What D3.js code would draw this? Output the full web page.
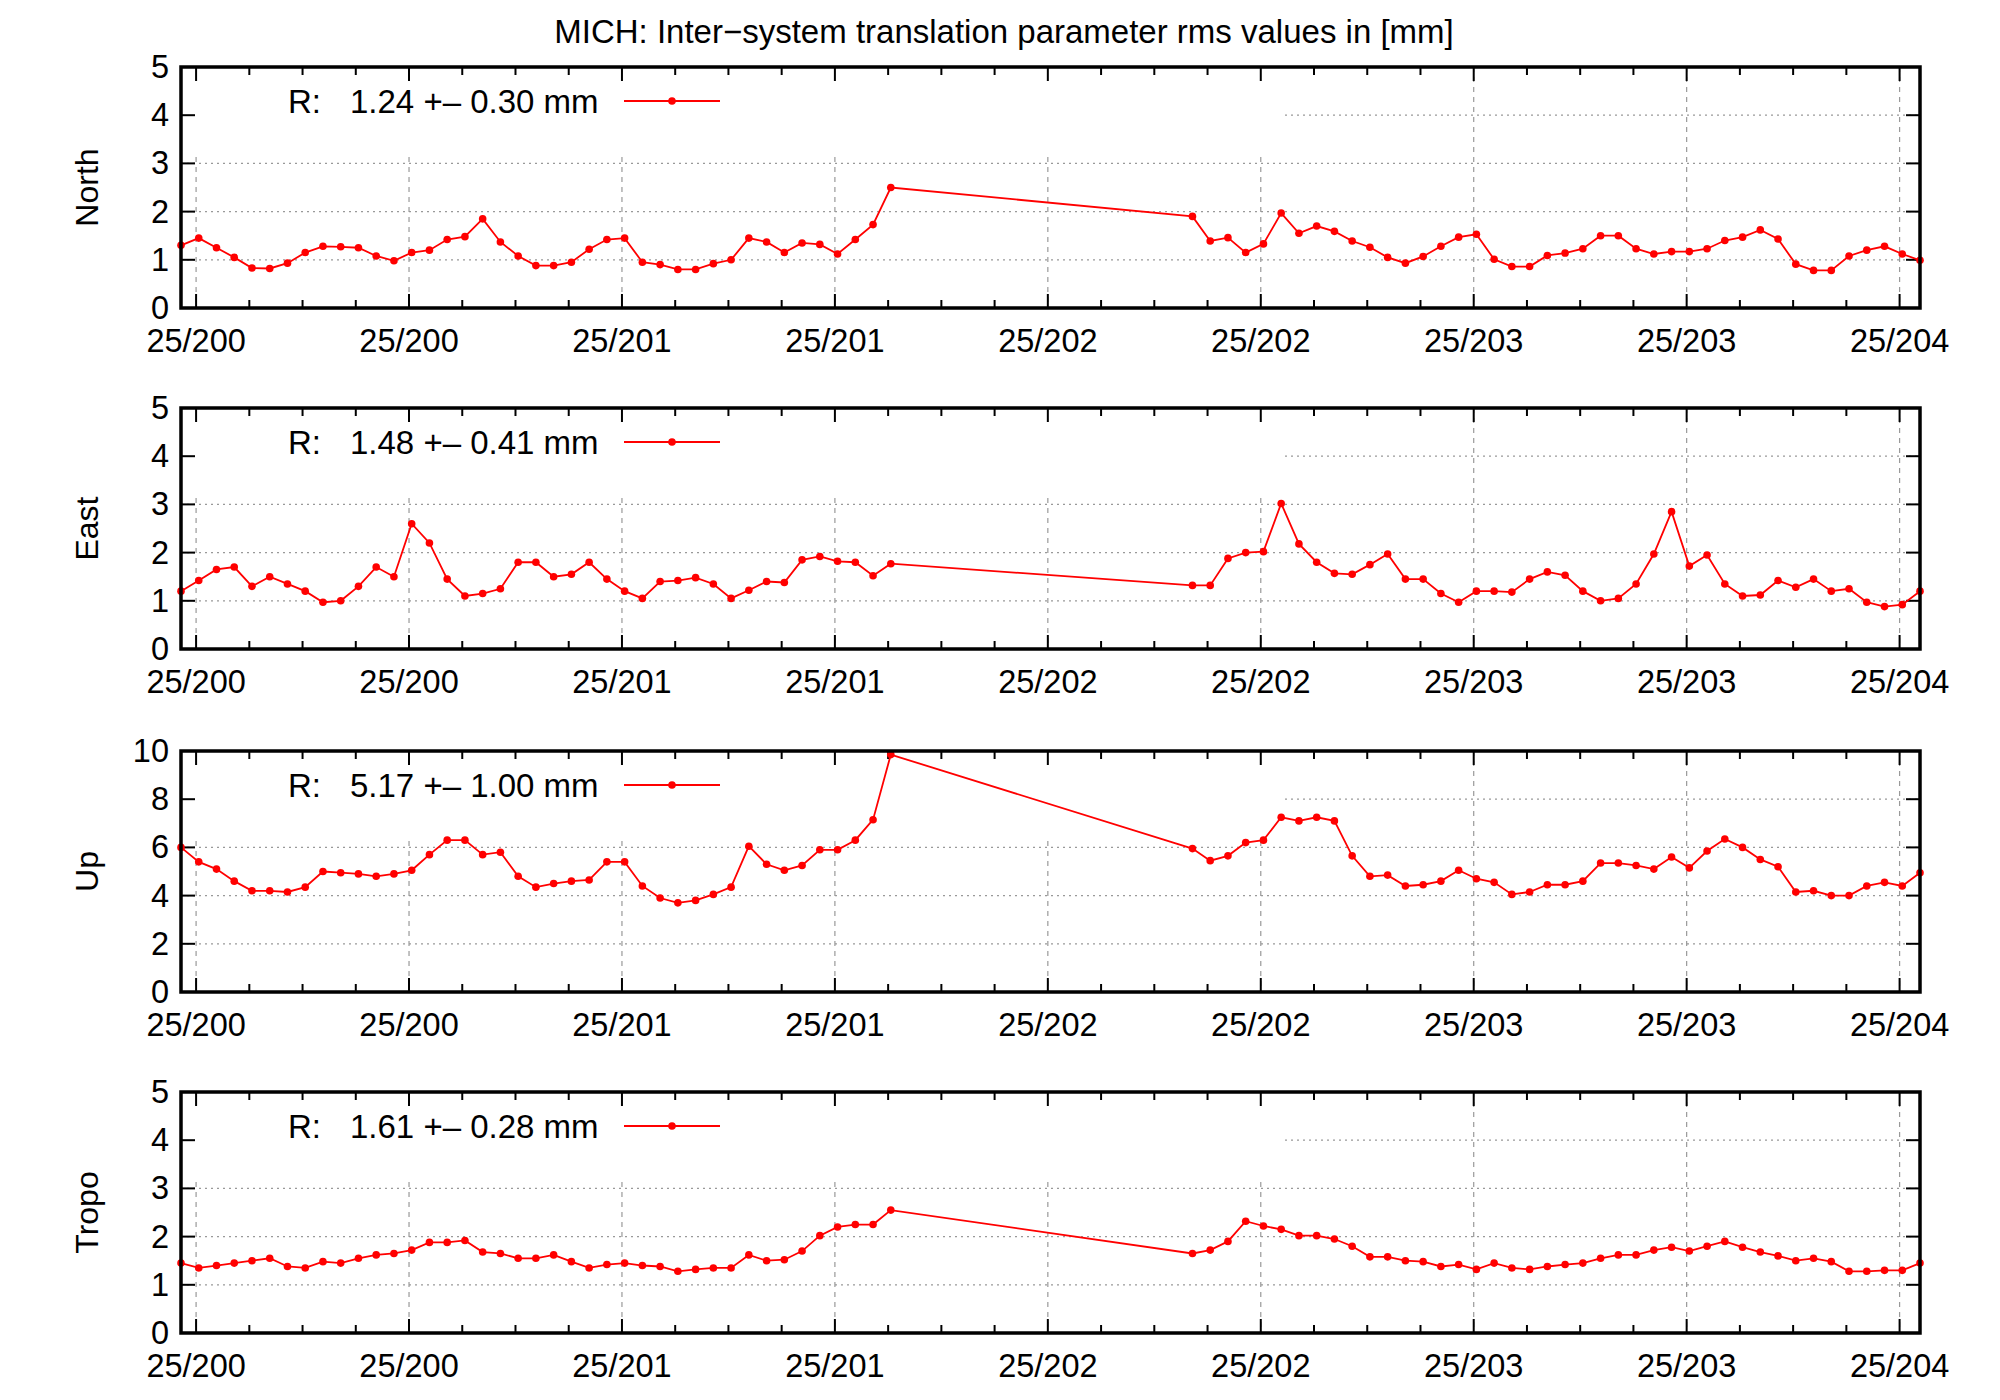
<!DOCTYPE html>
<html><head><meta charset="utf-8">
<script src="https://cdn.jsdelivr.net/npm/d3@7"></script>
<style>body{margin:0;background:#fff}</style>
</head><body><div id="display"></div>
<script>
// x positions in weeks (index), gap between 40 and 57
var xIndex = d3.range(0, 41).concat(d3.range(57, 99));
var tickLabels = ["25/200","25/200","25/201","25/201","25/202","25/202","25/203","25/203","25/204"];
var panelNames = ["North", "East", "Up", "Tropo"];
var legendTexts = ["1.24 +\u2013 0.30 mm", "1.48 +\u2013 0.41 mm", "5.17 +\u2013 1.00 mm", "1.61 +\u2013 0.28 mm"];
var yMax = [5, 5, 10, 5];

var north = [1.3,1.45,1.25,1.05,0.83,0.82,0.93,1.15,1.28,1.27,1.25,1.08,0.98,1.15,1.2,1.42,1.48,1.85,1.37,1.08,0.88,0.88,0.95,1.22,1.42,1.45,0.95,0.9,0.8,0.8,0.92,1.0,1.45,1.37,1.15,1.35,1.32,1.12,1.42,1.73,2.5,
  1.9,1.39,1.46,1.15,1.33,1.97,1.55,1.7,1.59,1.39,1.26,1.05,0.93,1.07,1.28,1.47,1.53,1.01,0.86,0.86,1.09,1.14,1.23,1.5,1.5,1.23,1.12,1.17,1.17,1.23,1.4,1.47,1.62,1.43,0.91,0.78,0.78,1.08,1.2,1.28,1.12,0.99];
var east = [1.2,1.42,1.65,1.7,1.3,1.5,1.35,1.2,0.97,1.0,1.3,1.7,1.5,2.6,2.2,1.45,1.1,1.15,1.25,1.8,1.8,1.5,1.55,1.8,1.45,1.2,1.05,1.4,1.42,1.48,1.35,1.05,1.22,1.4,1.38,1.85,1.92,1.82,1.8,1.52,1.77,
  1.32,1.32,1.88,2.0,2.02,3.02,2.18,1.8,1.57,1.55,1.75,1.97,1.45,1.45,1.15,0.97,1.2,1.2,1.18,1.45,1.6,1.53,1.2,1.0,1.05,1.35,1.97,2.85,1.72,1.95,1.35,1.1,1.12,1.42,1.28,1.45,1.2,1.25,0.97,0.88,0.92,1.2];
var up = [6.0,5.4,5.1,4.6,4.2,4.2,4.15,4.35,5.0,4.95,4.9,4.8,4.9,5.05,5.7,6.3,6.3,5.7,5.8,4.8,4.35,4.5,4.6,4.65,5.4,5.4,4.4,3.9,3.7,3.8,4.05,4.35,6.05,5.3,5.05,5.25,5.9,5.9,6.3,7.15,9.85,
  5.95,5.45,5.65,6.2,6.3,7.25,7.1,7.25,7.1,5.65,4.8,4.85,4.4,4.45,4.6,5.05,4.7,4.55,4.05,4.15,4.45,4.45,4.6,5.35,5.35,5.25,5.1,5.6,5.15,5.85,6.35,6.0,5.5,5.2,4.15,4.2,4.0,4.0,4.4,4.55,4.4,4.95];
var tropo = [1.45,1.35,1.4,1.45,1.5,1.55,1.38,1.35,1.48,1.45,1.55,1.62,1.65,1.72,1.88,1.88,1.92,1.68,1.65,1.55,1.55,1.62,1.48,1.35,1.42,1.45,1.4,1.38,1.28,1.32,1.35,1.35,1.62,1.5,1.52,1.7,2.02,2.2,2.25,2.25,2.55,
  1.65,1.72,1.9,2.32,2.22,2.15,2.02,2.02,1.95,1.8,1.58,1.58,1.5,1.48,1.38,1.42,1.32,1.45,1.35,1.32,1.38,1.42,1.45,1.55,1.62,1.62,1.72,1.78,1.7,1.8,1.9,1.78,1.68,1.6,1.5,1.55,1.48,1.28,1.28,1.3,1.3,1.45];
var series = [north, east, up, tropo];

var width = 2000, height = 1400;
var left = 181, right = 1920;
var panelTops = [67, 408, 751, 1092], panelH = 241;
var font = "'Liberation Sans', Arial, sans-serif";

var svg = d3.select("#display").append("svg")
    .attr("width", width).attr("height", height)
    .style("font-family", font);

svg.append("text").attr("x", 1004).attr("y", 43)
    .attr("text-anchor", "middle").attr("font-size", 33)
    .text("MICH: Inter\u2212system translation parameter rms values in [mm]");

var x = d3.scaleLinear().domain([0, 98]).range([left, right]);
var majorTicks = d3.range(9).map(k => 0.85 + 12 * k);
var minorTicks = d3.range(-1, 33).map(k => 0.85 + 3 * k).filter(v => v >= 0 && v <= 98);

panelNames.forEach(function(name, p) {
  var top = panelTops[p], bottom = top + panelH;
  var y = d3.scaleLinear().domain([0, yMax[p]]).range([bottom, top]);
  var yt = d3.range(0, yMax[p] + 0.01, yMax[p] / 5);
  var g = svg.append("g");

  // grid
  var grid = g.append("g").attr("stroke", "#999").attr("stroke-width", 1.2);
  grid.selectAll(".h").data(yt.slice(1, -1)).join("line")
      .attr("x1", left).attr("x2", right)
      .attr("y1", d => y(d)).attr("y2", d => y(d))
      .attr("stroke-dasharray", "2,4");
  grid.selectAll(".v").data(majorTicks).join("line")
      .attr("x1", d => x(d)).attr("x2", d => x(d))
      .attr("y1", top).attr("y2", bottom)
      .attr("stroke-dasharray", "5,5");
  // legend key box masks the grid
  g.append("rect").attr("x", left + 2).attr("y", top + 2)
      .attr("width", 1282 - left).attr("height", y(yMax[p] * 0.64) - top - 2)
      .attr("fill", "#fff");

  // ticks
  var tk = g.append("g").attr("stroke", "#000").attr("stroke-width", 2);
  tk.selectAll(".mb").data(minorTicks).join("line")
      .attr("x1", d => x(d)).attr("x2", d => x(d))
      .attr("y1", bottom).attr("y2", d => bottom - (majorTicks.includes(d) ? 14 : 8));
  tk.selectAll(".mt").data(minorTicks).join("line")
      .attr("x1", d => x(d)).attr("x2", d => x(d))
      .attr("y1", top).attr("y2", d => top + (majorTicks.includes(d) ? 14 : 8));
  tk.selectAll(".yl").data(yt).join("line")
      .attr("x1", left).attr("x2", left + 14).attr("y1", d => y(d)).attr("y2", d => y(d));
  tk.selectAll(".yr").data(yt).join("line")
      .attr("x1", right).attr("x2", right - 14).attr("y1", d => y(d)).attr("y2", d => y(d));

  g.selectAll(".xl").data(majorTicks).join("text")
      .attr("x", d => x(d)).attr("y", bottom + 44)
      .attr("text-anchor", "middle").attr("font-size", 32.5)
      .text((d, i) => tickLabels[i]);
  g.selectAll(".ylab").data(yt).join("text")
      .attr("x", left - 12).attr("y", d => y(d) + 11)
      .attr("text-anchor", "end").attr("font-size", 32.5)
      .text(d => d);

  g.append("text")
      .attr("transform", "translate(98," + (top + panelH / 2) + ") rotate(-90)")
      .attr("text-anchor", "middle").attr("font-size", 32)
      .text(name);

  // legend
  g.append("text").attr("x", 288).attr("y", top + 46).attr("font-size", 33).text("R:");
  g.append("text").attr("x", 350).attr("y", top + 46).attr("font-size", 33).text(legendTexts[p]);
  g.append("line").attr("x1", 624).attr("x2", 720).attr("y1", top + 34).attr("y2", top + 34)
      .attr("stroke", "#f00").attr("stroke-width", 1.8);
  g.append("circle").attr("cx", 672).attr("cy", top + 34).attr("r", 3.8).attr("fill", "#f00");

  // data
  var pts = xIndex.map((xi, i) => [xi, series[p][i]]);
  g.append("path").datum(pts)
      .attr("fill", "none").attr("stroke", "#f00").attr("stroke-width", 1.8)
      .attr("d", d3.line().x(d => x(d[0])).y(d => y(d[1])));
  g.selectAll(".pt").data(pts).join("circle")
      .attr("cx", d => x(d[0])).attr("cy", d => y(d[1])).attr("r", 3.8).attr("fill", "#f00");

  // frame
  g.append("rect").attr("x", left).attr("y", top)
      .attr("width", right - left).attr("height", panelH)
      .attr("fill", "none").attr("stroke", "#000").attr("stroke-width", 3.5);
});
</script>
</body></html>
